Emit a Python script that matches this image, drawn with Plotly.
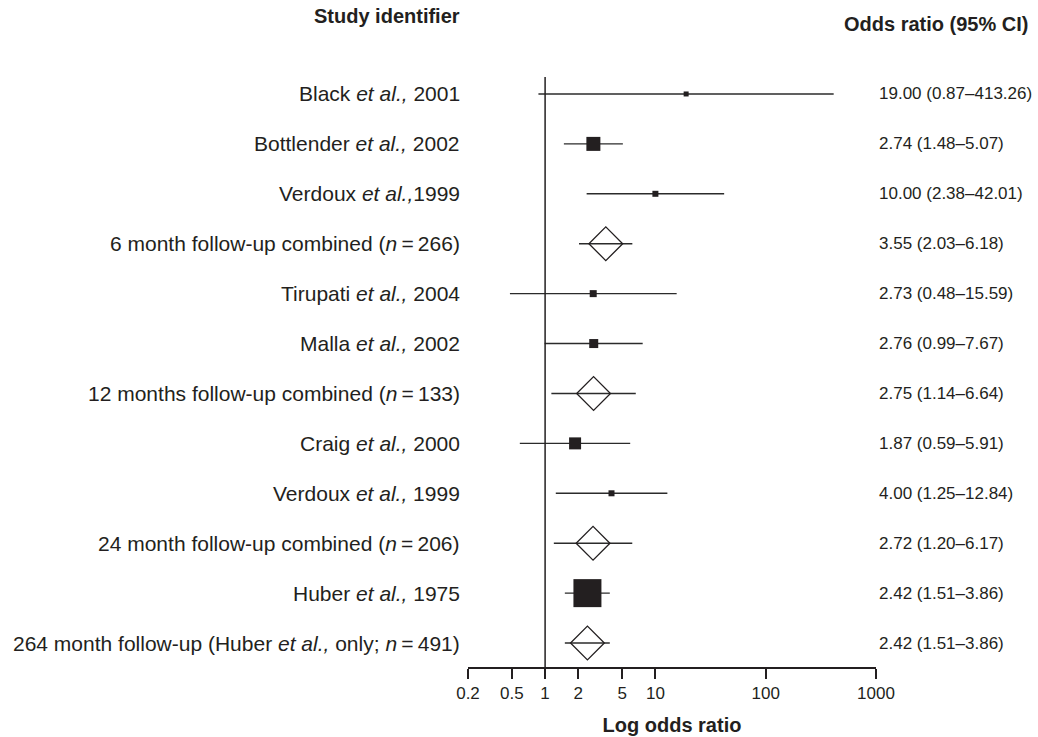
import plotly.graph_objects as go
import math

# ---- data ----
study_labels = [
    "Black <i>et al.,</i> 2001",
    "Bottlender <i>et al.,</i> 2002",
    "Verdoux <i>et al.,</i>1999",
    "6 month follow-up combined (<i>n</i>\u2009=\u2009266)",
    "Tirupati <i>et al.,</i> 2004",
    "Malla <i>et al.,</i> 2002",
    "12 months follow-up combined (<i>n</i>\u2009=\u2009133)",
    "Craig <i>et al.,</i> 2000",
    "Verdoux <i>et al.,</i> 1999",
    "24 month follow-up combined (<i>n</i>\u2009=\u2009206)",
    "Huber <i>et al.,</i> 1975",
    "264 month follow-up (Huber <i>et al.,</i> only; <i>n</i>\u2009=\u2009491)",
]
odds_ratio = [19.00, 2.74, 10.00, 3.55, 2.73, 2.76, 2.75, 1.87, 4.00, 2.72, 2.42, 2.42]
ci_low = [0.87, 1.48, 2.38, 2.03, 0.48, 0.99, 1.14, 0.59, 1.25, 1.20, 1.51, 1.51]
ci_high = [413.26, 5.07, 42.01, 6.18, 15.59, 7.67, 6.64, 5.91, 12.84, 6.17, 3.86, 3.86]
is_combined = [False, False, False, True, False, False, True, False, False, True, False, True]
ci_text = [
    "19.00 (0.87\u2013413.26)", "2.74 (1.48\u20135.07)", "10.00 (2.38\u201342.01)",
    "3.55 (2.03\u20136.18)", "2.73 (0.48\u201315.59)", "2.76 (0.99\u20137.67)",
    "2.75 (1.14\u20136.64)", "1.87 (0.59\u20135.91)", "4.00 (1.25\u201312.84)",
    "2.72 (1.20\u20136.17)", "2.42 (1.51\u20133.86)", "2.42 (1.51\u20133.86)",
]
tick_vals = [0.2, 0.5, 1, 2, 5, 10, 100, 1000]
tick_labels = ["0.2", "0.5", "1", "2", "5", "10", "100", "1000"]

# ---- style (marker pixel sizes reflecting study weight) ----
square_px = [5, 14, 6, None, 7, 9, None, 12, 6, None, 28, None]
diamond_px = 26

INK = "#231f20"
FONT = "Liberation Sans, Arial, Helvetica, sans-serif"

n = len(study_labels)
ypos = [n - 1 - i for i in range(n)]

fig = go.Figure()

# CI lines
lx, ly = [], []
for i in range(n):
    lx += [ci_low[i], ci_high[i], None]
    ly += [ypos[i], ypos[i], None]
fig.add_trace(go.Scatter(x=lx, y=ly, mode="lines",
                         line=dict(color="#2b2b2b", width=1.4),
                         hoverinfo="skip", showlegend=False))

# squares for individual studies
sq_idx = [i for i in range(n) if not is_combined[i]]
fig.add_trace(go.Scatter(
    x=[odds_ratio[i] for i in sq_idx], y=[ypos[i] for i in sq_idx], mode="markers",
    marker=dict(symbol="square", size=[square_px[i] for i in sq_idx],
                color=INK, opacity=1, line=dict(width=0)),
    showlegend=False))

# diamonds for combined estimates
dm_idx = [i for i in range(n) if is_combined[i]]
fig.add_trace(go.Scatter(
    x=[odds_ratio[i] for i in dm_idx], y=[ypos[i] for i in dm_idx], mode="markers",
    marker=dict(symbol="diamond-open", size=diamond_px, opacity=1,
                color=INK, line=dict(width=1.3, color=INK)),
    showlegend=False))

# vertical line of no effect
fig.add_shape(type="line", xref="x", yref="paper", x0=1, x1=1, y0=0, y1=1,
              line=dict(color=INK, width=1.5))

annotations = []
for i in range(n):
    annotations.append(dict(xref="paper", yref="y", x=0, y=ypos[i], xanchor="right",
                            yanchor="middle", xshift=-6, showarrow=False,
                            text=study_labels[i], font=dict(size=21, color=INK, family=FONT)))
    annotations.append(dict(xref="paper", yref="y", x=1, y=ypos[i], xanchor="left",
                            yanchor="middle", xshift=1, showarrow=False,
                            text=ci_text[i], font=dict(size=17, color=INK, family=FONT)))

annotations.append(dict(xref="paper", yref="paper", x=0, y=1, xanchor="right", yanchor="middle",
                        xshift=-6, yshift=61, showarrow=False, text="<b>Study identifier</b>",
                        font=dict(size=20, color=INK, family=FONT)))
annotations.append(dict(xref="paper", yref="paper", x=1, y=1, xanchor="right", yanchor="middle",
                        xshift=154, yshift=53, showarrow=False, text="<b>Odds ratio (95% CI)</b>",
                        font=dict(size=20, color=INK, family=FONT)))

fig.update_layout(
    width=1038, height=737, autosize=False,
    margin=dict(l=468, r=162, t=77, b=70, autoexpand=False),
    paper_bgcolor="white", plot_bgcolor="white",
    font=dict(family=FONT, color=INK),
    annotations=annotations,
    xaxis=dict(type="log", range=[math.log10(0.2), math.log10(1000)],
               tickvals=tick_vals, ticktext=tick_labels, automargin=False,
               showline=True, linecolor=INK, linewidth=1.5,
               ticks="outside", ticklen=10, tickwidth=1.5, tickcolor=INK,
               showgrid=False, zeroline=False,
               tickfont=dict(size=17, color=INK, family=FONT),
               title=dict(text="<b>Log odds ratio</b>", font=dict(size=20, color=INK, family=FONT),
                          standoff=16)),
    yaxis=dict(range=[-0.48, n - 1 + 0.34], showticklabels=False, showgrid=False,
               zeroline=False, showline=False, ticks="", automargin=False),
)

fig.write_html("out.html")
